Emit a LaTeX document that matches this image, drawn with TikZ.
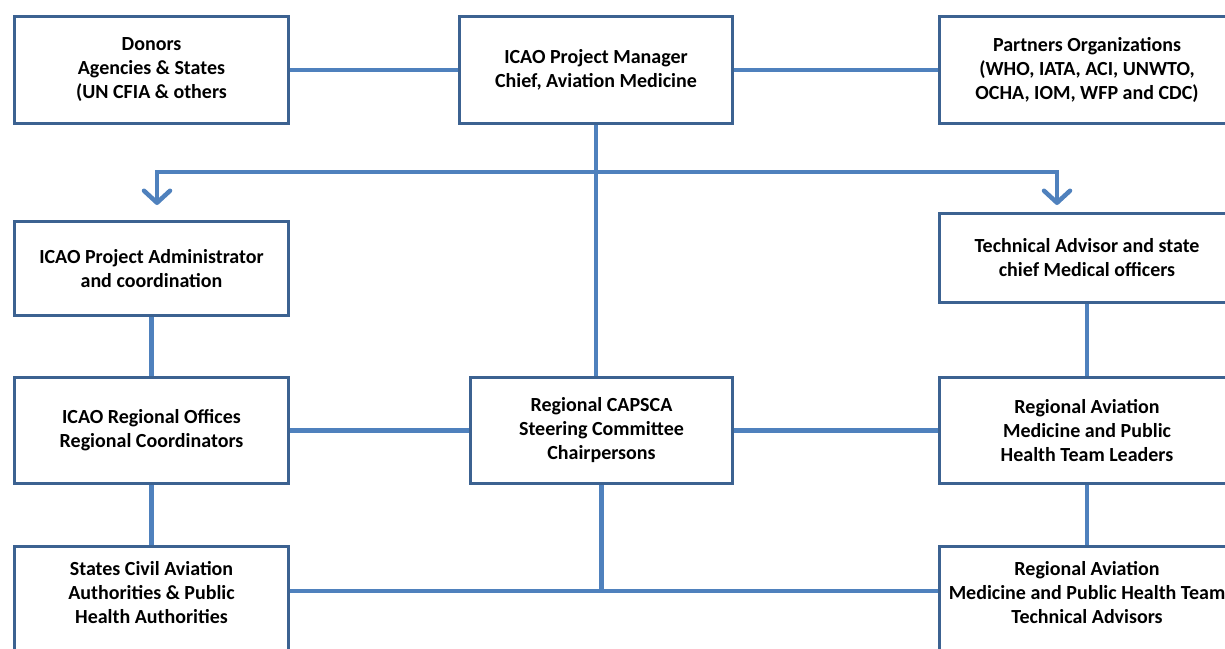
\documentclass[tikz,border=0pt]{standalone}
\usepackage{fontspec}
\setmainfont{Carlito}
\usepackage{tikz}
\usetikzlibrary{positioning,arrows.meta}

\definecolor{boxblue}{RGB}{60,98,145}
\definecolor{linkblue}{RGB}{79,129,189}

\begin{document}
\begin{tikzpicture}[
	box/.style={draw=boxblue,line width=3pt,fill=white,align=center,
		font=\fontsize{20pt}{24pt}\selectfont\bfseries},
	openbox/.style={box,anchor=north,inner ysep=15pt,text height=62pt,text depth=80pt},
	link/.style={draw=linkblue,line width=4.5pt},
	arrowlink/.style={link,-{Straight Barb[round,length=12pt,width=26pt]}}]
	\useasboundingbox (0,0) rectangle (1225pt,-648pt);

	\node[box,minimum width=274pt,minimum height=107pt] (donors) at (151.5pt,-70pt) {Donors\\Agencies \& States\\(UN CFIA \& others};
	\node[box,minimum width=273pt,minimum height=107pt] (pm) [right=168pt of donors] {ICAO Project Manager\\Chief, Aviation Medicine};
	\node[box,minimum width=295pt,minimum height=107pt] (partners) [right=204pt of pm] {Partners Organizations\\(WHO, IATA, ACI, UNWTO,\\OCHA, IOM, WFP and CDC)};

	\node[box,minimum width=274pt,minimum height=94pt] (admin) [below=95pt of donors] {ICAO Project Administrator\\and coordination};
	\node[box,minimum width=295pt,minimum height=89pt] (techadv) [below=87pt of partners] {Technical Advisor and state\\chief Medical officers};

	\node[box,minimum width=274pt,minimum height=106pt] (regoff) [below=59pt of admin] {ICAO Regional Offices\\Regional Coordinators};
	\node[box,minimum width=262pt,minimum height=106pt] (capsca) [right=179pt of regoff] {Regional CAPSCA\\Steering Committee\\Chairpersons};
	\node[box,minimum width=295pt,minimum height=106pt] (leaders) [below=72pt of techadv] {Regional Aviation\\Medicine and Public\\Health Team Leaders};

	\node[openbox,minimum width=274pt] (states) [below=60pt of regoff] {States Civil Aviation\\Authorities \& Public\\Health Authorities};
	\node[openbox,minimum width=295pt] (tadv) [below=60pt of leaders] {Regional Aviation\\Medicine and Public Health Team\\Technical Advisors};

	\coordinate (split) at ([yshift=-47pt]pm.south);
	\coordinate (ltip) at (157pt,-205pt);
	\coordinate (rtip) at (1057pt,-205pt);
	\coordinate (join) at ([yshift=-106pt]capsca.south);

	\path[link]
	(donors) edge (pm)
	(pm) edge (partners)
	(admin) edge (regoff)
	(regoff) edge (states)
	     edge (capsca)
	(capsca) edge (leaders)
	(techadv) edge (leaders)
	(leaders) edge (tadv);

	\draw[link] (pm.south) -- (pm.south |- capsca.north);
	\draw[arrowlink] (split) -| (ltip);
	\draw[arrowlink] (split) -| (rtip);
	\draw[link] (capsca.south) -- (join);
	\draw[link] (states.east |- join) -- (tadv.west |- join);
\end{tikzpicture}
\end{document}
